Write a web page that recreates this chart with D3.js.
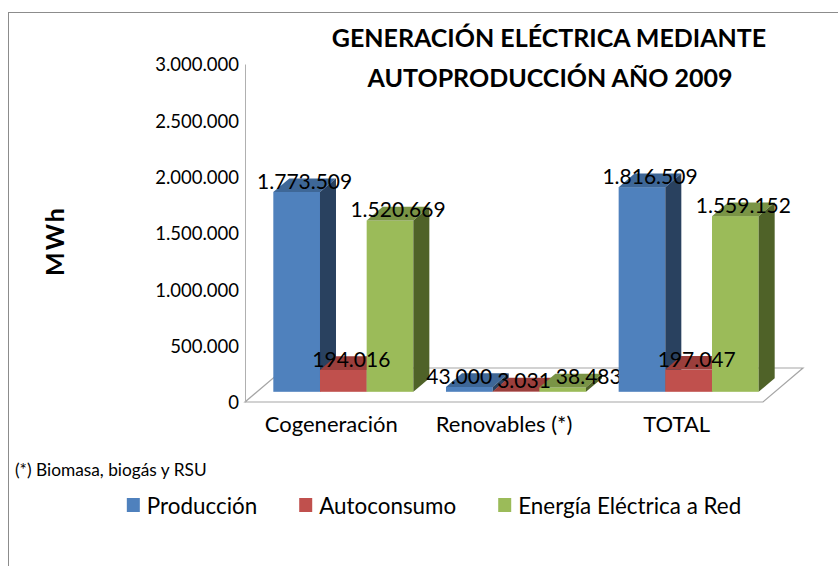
<!DOCTYPE html>
<html>
<head>
<meta charset="utf-8">
<script src="https://cdn.jsdelivr.net/npm/d3@7"></script>
<style>
  body { margin: 0; background: #fff; }
  svg { display: block; font-family: Lato, "Open Sans", sans-serif; }
</style>
</head>
<body>
<svg width="838" height="566"></svg>
<script>
// Data
const categories = ["Cogeneración", "Renovables (*)", "TOTAL"];
const seriesNames = ["Producción", "Autoconsumo", "Energía Eléctrica a Red"];
const produccion = [1773509, 43000, 1816509];
const autoconsumo = [194016, 3031, 197047];
const energiaRed = [1520669, 38483, 1559152];
const yTicks = [0, 500000, 1000000, 1500000, 2000000, 2500000, 3000000];

const seriesValues = [produccion, autoconsumo, energiaRed];

// face / top / side shades per series
const colors = [
    { front: "#4F81BD", top: "#3E6797", side: "#29415F" },
    { front: "#C0504D", top: "#9B3F3C", side: "#7E302E" },
    { front: "#9BBB59", top: "#7A9446", side: "#4F6228" }
];

const svg = d3.select("svg");
const W = 838, H = 566;

// chart frame
svg.append("rect")
    .attr("x", 8.5).attr("y", 12.5)
    .attr("width", W).attr("height", H)
    .attr("fill", "#fff")
    .attr("stroke", "#8c8c8c");

// 3D geometry (oblique projection)
const plot = { left: 245, right: 763, top: 64, bottom: 402 };
const DX = 40, DY = -34;        // full floor depth offset
const barFront = 0.3, barBack = 0.7; // bar depth as fraction of floor depth

const x = d3.scaleBand()
    .domain(categories)
    .range([plot.left, plot.right])
    .paddingInner(0.189)
    .paddingOuter(0.0945);

const xs = d3.scaleBand()
    .domain(d3.range(seriesNames.length))
    .range([0, x.bandwidth()]);

const y = d3.scaleLinear()
    .domain([0, 3000000])
    .range([plot.bottom, plot.top]);

const fmt = d3.formatLocale({ decimal: ",", thousands: ".", grouping: [3], currency: ["", ""] }).format(",d");

// title
const title = svg.append("text")
    .attr("text-anchor", "middle")
    .attr("font-weight", "bold")
    .attr("font-size", 25)
    .attr("fill", "#000");
title.append("tspan").attr("x", 549).attr("y", 47).text("GENERACIÓN ELÉCTRICA MEDIANTE");
title.append("tspan").attr("x", 550).attr("y", 87).text("AUTOPRODUCCIÓN AÑO 2009");

// y axis title
svg.append("text")
    .attr("transform", "translate(64,241) rotate(-90)")
    .attr("text-anchor", "middle")
    .attr("font-weight", "bold")
    .attr("font-size", 25)
    .attr("letter-spacing", 2)
    .text("MWh");

// floor
const floorPts = [
    [plot.left, plot.bottom],
    [plot.right, plot.bottom],
    [plot.right + DX, plot.bottom + DY],
    [plot.left + DX, plot.bottom + DY]
];
svg.append("polygon")
    .attr("points", floorPts.map(p => p.join(",")).join(" "))
    .attr("fill", "#fff")
    .attr("stroke", "#a6a6a6")
    .attr("stroke-width", 1.2);

// y axis
const yAxis = svg.append("g")
    .attr("transform", `translate(${plot.left},0)`)
    .call(d3.axisLeft(y).tickValues(yTicks).tickSize(0).tickPadding(6).tickFormat(fmt));
yAxis.select(".domain").attr("stroke", "#b0b0b0");
yAxis.selectAll("text")
    .attr("font-family", "Lato, 'Open Sans', sans-serif")
    .attr("font-size", 18.5)
    .attr("fill", "#000")
    .attr("dy", "0.36em");

// bars and labels, category by category
const bdx = (barBack - barFront) * DX, bdy = (barBack - barFront) * DY;
const ox = barFront * DX, oy = barFront * DY;
const labelSize = 21;

categories.forEach((cat, ci) => {
    const g = svg.append("g");
    const labels = [];
    seriesValues.forEach((vals, si) => {
        const v = vals[ci];
        const x0 = x(cat) + xs(si) + ox;
        const x1 = x0 + xs.bandwidth();
        const yb = y(0) + oy;
        const yt = y(v) + oy;
        const c = colors[si];
        // front
        g.append("rect")
            .attr("x", x0).attr("y", yt)
            .attr("width", x1 - x0).attr("height", yb - yt)
            .attr("fill", c.front);
        // top
        g.append("polygon")
            .attr("points", [[x0, yt], [x1, yt], [x1 + bdx, yt + bdy], [x0 + bdx, yt + bdy]].map(p => p.join(",")).join(" "))
            .attr("fill", c.top);
        // side
        g.append("polygon")
            .attr("points", [[x1, yt], [x1 + bdx, yt + bdy], [x1 + bdx, yb + bdy], [x1, yb]].map(p => p.join(",")).join(" "))
            .attr("fill", c.side);
        labels.push({ v, cx: (x0 + x1) / 2 + bdx / 2, y: yt - 3 });
    });
    const texts = labels.map(l => g.append("text")
        .attr("x", l.cx).attr("y", l.y)
        .attr("text-anchor", "middle")
        .attr("font-size", labelSize)
        .attr("fill", "#000")
        .text(fmt(l.v)));
    // push overlapping labels apart, keeping the middle one in place
    labels.forEach((l, i) => { l.w = texts[i].node().getComputedTextLength(); });
    const mid = Math.floor(labels.length / 2), gap = 5;
    const clash = (a, b) => Math.abs(a.y - b.y) < labelSize;
    for (let i = mid - 1; i >= 0; i--) {
        const a = labels[i], b = labels[i + 1];
        if (clash(a, b) && a.cx + a.w / 2 > b.cx - b.w / 2 - gap) a.cx = b.cx - b.w / 2 - gap - a.w / 2;
    }
    for (let i = mid + 1; i < labels.length; i++) {
        const a = labels[i - 1], b = labels[i];
        if (clash(a, b) && b.cx - b.w / 2 < a.cx + a.w / 2 + gap) b.cx = a.cx + a.w / 2 + gap + b.w / 2;
    }
    texts.forEach((t, i) => t.attr("x", labels[i].cx));
});

// category labels
svg.append("g")
    .selectAll("text")
    .data(categories)
    .enter().append("text")
    .attr("x", d => x(d) + x.bandwidth() / 2)
    .attr("y", 432)
    .attr("text-anchor", "middle")
    .attr("font-size", 22)
    .attr("fill", "#000")
    .text(d => d);

// footnote
svg.append("text")
    .attr("x", 15).attr("y", 476)
    .attr("font-size", 17.3)
    .attr("fill", "#000")
    .text("(*) Biomasa, biogás y RSU");

// legend
const legend = svg.append("g");
let lx = 0;
seriesNames.forEach((name, i) => {
    const item = legend.append("g").attr("transform", `translate(${lx},0)`);
    item.append("rect")
        .attr("x", 0).attr("y", 498)
        .attr("width", 13).attr("height", 14)
        .attr("fill", colors[i].front);
    const t = item.append("text")
        .attr("x", 20).attr("y", 514)
        .attr("font-size", 22.4)
        .attr("fill", "#000")
        .text(name);
    lx += 20 + t.node().getComputedTextLength() + 42;
});
const legendW = lx - 42;
legend.attr("transform", `translate(${434 - legendW / 2},0)`);
</script>
</body>
</html>
